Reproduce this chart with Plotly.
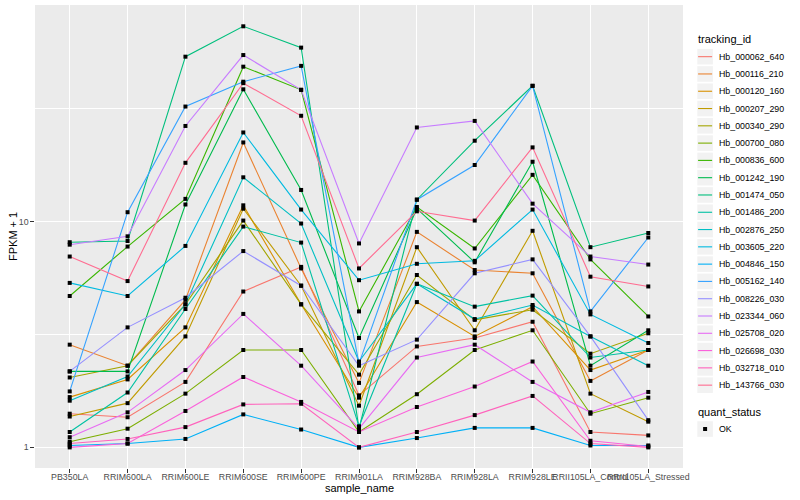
import plotly.graph_objects as go

samples = ["PB350LA", "RRIM600LA", "RRIM600LE", "RRIM600SE", "RRIM600PE", "RRIM901LA",
           "RRIM928BA", "RRIM928LA", "RRIM928LE", "RRII105LA_Control", "RRII105LA_Stressed"]

tracking_ids = ["Hb_000062_640", "Hb_000116_210", "Hb_000120_160", "Hb_000207_290", "Hb_000340_290",
                "Hb_000700_080", "Hb_000836_600", "Hb_001242_190", "Hb_001474_050", "Hb_001486_200",
                "Hb_002876_250", "Hb_003605_220", "Hb_004846_150", "Hb_005162_140", "Hb_008226_030",
                "Hb_023344_060", "Hb_025708_020", "Hb_026698_030", "Hb_032718_010", "Hb_143766_030"]

colors = ["#F8766D", "#EA8331", "#D89000", "#C09B00", "#A3A500", "#7CAE00", "#39B600", "#00BB4E",
          "#00BF7D", "#00C1A3", "#00BFC4", "#00BAE0", "#00B0F6", "#35A2FF", "#9590FF", "#C77CFF",
          "#E76BF3", "#FA62DB", "#FF62BC", "#FF6C91"]

hb_000062_640 = [1.41, 1.36, 1.95, 4.9, 6.3, 1.70, 2.8, 3.05, 3.6, 1.17, 1.13]
hb_000116_210 = [2.85, 2.3, 4.5, 22.4, 6.2, 1.93, 9.0, 6.1, 5.9, 1.97, 2.7]
hb_000120_160 = [1.67, 2.0, 3.4, 11.8, 4.3, 1.66, 4.4, 3.1, 4.2, 2.2, 2.7]
hb_000207_290 = [1.37, 1.57, 3.1, 11.4, 5.2, 1.53, 7.7, 3.3, 9.1, 1.73, 1.30]
hb_000340_290 = [2.04, 2.3, 4.3, 10.1, 4.3, 2.1, 5.8, 3.67, 4.07, 2.6, 3.2]
hb_000700_080 = [1.06, 1.21, 1.73, 2.7, 2.7, 1.17, 1.72, 2.7, 3.3, 1.41, 1.66]
hb_000836_600 = [4.68, 7.75, 12.6, 48.5, 38.3, 4.0, 11.6, 7.6, 16.1, 6.8, 3.8]
hb_001242_190 = [2.17, 2.17, 11.9, 38.5, 13.8, 3.05, 11.4, 6.6, 18.4, 2.3, 3.3]
hb_001474_050 = [8.1, 8.2, 53.7, 73.2, 58.9, 1.21, 12.5, 22.8, 39.9, 7.7, 8.9]
hb_001486_200 = [1.17, 1.75, 4.1, 9.5, 8.07, 1.24, 5.3, 4.2, 4.7, 2.5, 2.7]
hb_002876_250 = [1.61, 2.06, 4.3, 15.7, 9.8, 2.4, 5.3, 3.7, 4.27, 3.1, 2.3]
hb_003605_220 = [5.35, 4.68, 7.8, 24.8, 11.3, 5.5, 6.5, 6.7, 11.3, 3.88, 2.9]
hb_004846_150 = [1.02, 1.04, 1.09, 1.40, 1.20, 1.00, 1.10, 1.22, 1.22, 1.02, 1.02]
hb_005162_140 = [1.77, 11.0, 32.3, 41.6, 48.9, 2.35, 12.5, 17.8, 39.9, 4.0, 8.5]
hb_008226_030 = [2.17, 3.4, 4.6, 7.4, 5.2, 2.3, 3.0, 5.9, 6.8, 3.1, 1.32]
hb_023344_060 = [7.9, 8.6, 26.5, 54.6, 38.3, 8.0, 26.1, 27.9, 12.0, 7.0, 6.45]
hb_025708_020 = [1.11, 1.43, 2.2, 3.9, 2.3, 1.21, 2.5, 2.85, 1.95, 1.43, 1.76]
hb_026698_030 = [1.00, 1.04, 1.45, 2.05, 1.59, 1.17, 1.51, 1.86, 2.4, 1.07, 1.01]
hb_032718_010 = [1.04, 1.09, 1.23, 1.55, 1.56, 1.00, 1.17, 1.39, 1.69, 1.04, 1.00]
hb_143766_030 = [7.0, 5.45, 18.2, 41.0, 29.4, 6.2, 11.1, 10.1, 21.3, 5.7, 5.16]

series = [hb_000062_640, hb_000116_210, hb_000120_160, hb_000207_290, hb_000340_290,
          hb_000700_080, hb_000836_600, hb_001242_190, hb_001474_050, hb_001486_200,
          hb_002876_250, hb_003605_220, hb_004846_150, hb_005162_140, hb_008226_030,
          hb_023344_060, hb_025708_020, hb_026698_030, hb_032718_010, hb_143766_030]

quant_status = ["OK"]

y_ticks = [1, 10]
y_tick_labels = ["1", "10"]

FONT = "Liberation Sans, Arial, Helvetica, sans-serif"
W, H = 800, 500
L, R, T, B = 35, 683, 5, 468.3


def px_x(px):
    return (px - L) / (R - L)


def px_y(py):
    return (B - py) / (B - T)


fig = go.Figure()
for name, vals, col in zip(tracking_ids, series, colors):
    fig.add_trace(go.Scatter(
        x=samples, y=vals, mode="lines", name=name,
        line=dict(color=col, width=1.1), showlegend=False,
    ))

all_x = [s for vals in series for s in samples]
all_y = [v for vals in series for v in vals]
fig.add_trace(go.Scatter(
    x=all_x, y=all_y, mode="markers", name=quant_status[0],
    marker=dict(symbol="square", size=4, color="black"), showlegend=False,
))

shapes = []
annotations = []

# legend: tracking_id
key_left, key_size, row_h, first_row = 697.3, 15.6, 17.3, 56.7
annotations.append(dict(text="tracking_id", xref="paper", yref="paper", x=px_x(696), y=px_y(39.5),
                        xanchor="left", yanchor="middle", showarrow=False,
                        font=dict(size=11, color="black", family=FONT)))
for i, (name, col) in enumerate(zip(tracking_ids, colors)):
    cy = first_row + row_h * i
    shapes.append(dict(type="rect", xref="paper", yref="paper",
                       x0=px_x(key_left), x1=px_x(key_left + key_size),
                       y0=px_y(cy - key_size / 2), y1=px_y(cy + key_size / 2),
                       fillcolor="#F2F2F2", line=dict(width=0), layer="above"))
    shapes.append(dict(type="line", xref="paper", yref="paper",
                       x0=px_x(key_left + 0.8), x1=px_x(key_left + key_size - 0.8),
                       y0=px_y(cy), y1=px_y(cy), line=dict(color=col, width=1.1), layer="above"))
    annotations.append(dict(text=name, xref="paper", yref="paper", x=px_x(716.5), y=px_y(cy),
                            xanchor="left", yanchor="middle", showarrow=False,
                            font=dict(size=8.8, color="black", family=FONT)))

# legend: quant_status
annotations.append(dict(text="quant_status", xref="paper", yref="paper", x=px_x(696), y=px_y(412.5),
                        xanchor="left", yanchor="middle", showarrow=False,
                        font=dict(size=11, color="black", family=FONT)))
ok_y = 429.3
shapes.append(dict(type="rect", xref="paper", yref="paper",
                   x0=px_x(key_left), x1=px_x(key_left + key_size),
                   y0=px_y(ok_y - key_size / 2), y1=px_y(ok_y + key_size / 2),
                   fillcolor="#F2F2F2", line=dict(width=0), layer="above"))
shapes.append(dict(type="rect", xref="paper", yref="paper",
                   x0=px_x(key_left + key_size / 2 - 2), x1=px_x(key_left + key_size / 2 + 2),
                   y0=px_y(ok_y - 2), y1=px_y(ok_y + 2),
                   fillcolor="black", line=dict(width=0), layer="above"))
annotations.append(dict(text=quant_status[0], xref="paper", yref="paper", x=px_x(716.5), y=px_y(ok_y),
                        xanchor="left", yanchor="middle", showarrow=False,
                        font=dict(size=8.8, color="black", family=FONT)))

# axis titles
annotations.append(dict(text="sample_name", xref="paper", yref="paper", x=0.5, y=px_y(488.5),
                        xanchor="center", yanchor="middle", showarrow=False,
                        font=dict(size=11, color="black", family=FONT)))
annotations.append(dict(text="FPKM + 1", xref="paper", yref="paper", x=px_x(12.5), y=0.5,
                        xanchor="center", yanchor="middle", showarrow=False, textangle=-90,
                        font=dict(size=11, color="black", family=FONT)))

grid = "white"
fig.update_layout(
    width=W, height=H, autosize=False,
    margin=dict(l=L, r=W - R, t=T, b=H - B, pad=0),
    paper_bgcolor="white", plot_bgcolor="#EBEBEB",
    font=dict(family=FONT, size=8.8, color="#4D4D4D"),
    showlegend=False,
    xaxis=dict(
        type="category", range=[-0.6, 10.6], showgrid=True, gridcolor=grid, gridwidth=1.1,
        zeroline=False, showline=False, ticks="outside", ticklen=3.7, tickwidth=1.1,
        tickcolor="#333333", tickangle=0, tickfont=dict(size=8.8, color="#4D4D4D"),
        ticklabelstandoff=-3, automargin=False,
    ),
    yaxis=dict(
        type="log", range=[-0.0912, 1.9588], tickvals=y_ticks, ticktext=y_tick_labels,
        showgrid=True, gridcolor=grid, gridwidth=1.1, zeroline=False, showline=False,
        ticks="outside", ticklen=3.7, tickwidth=1.1, tickcolor="#333333",
        tickfont=dict(size=8.8, color="#4D4D4D"),
        minor=dict(tickvals=[3.1623, 31.623], showgrid=True, gridcolor=grid, gridwidth=0.55, ticks=""),
        automargin=False,
    ),
    shapes=shapes,
    annotations=annotations,
)

fig.write_html("out.html", config={"displayModeBar": False},
               post_script="document.body.style.margin='0';document.body.style.overflow='hidden';")
